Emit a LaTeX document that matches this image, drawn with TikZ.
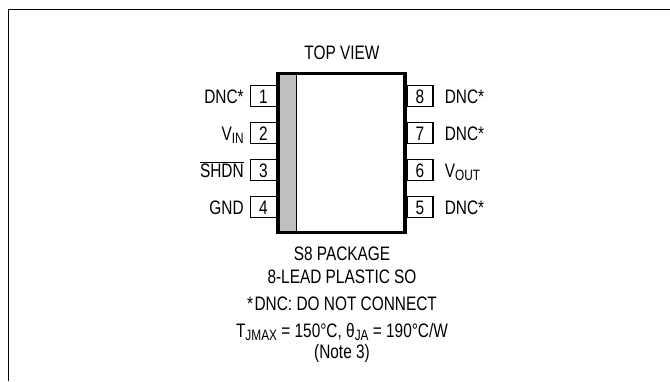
\documentclass[tikz,border=0pt]{standalone}
\usepackage{fontspec}
\setmainfont[FakeStretch=0.79]{Liberation Sans}
\usetikzlibrary{positioning}

\newcommand\pinfont{\fontsize{19.5bp}{22bp}\selectfont}
\newcommand\lowtext[1]{\raisebox{-0.2em}{\fontsize{15bp}{16bp}\selectfont #1}}

\tikzset{
    pinbox/.style={draw, line width=1.2bp, minimum width=26bp, minimum height=21bp, inner sep=0pt, font=\pinfont, text height=14bp, text depth=0pt},
    lbl/.style={inner sep=0pt, font=\pinfont, text height=14bp, text depth=0pt},
    txt/.style={inner sep=0pt, font=\pinfont, anchor=base}
}

\begin{document}
\begin{tikzpicture}[x=1bp, y=-1bp, line join=miter]
            \useasboundingbox (0,0) rectangle (670,381);
            % Frame
            \draw[line width=1.5bp] (670,9.5) -- (8.5,9.5) -- (8.5,381);

            % Package
            \node[txt] (top) at (342,59.5) {TOP VIEW};
            \node[minimum width=127bp, minimum height=159bp, inner sep=0pt] (body) at (341.5,153) {};
            \fill[gray!50] (body.north west) rectangle ([xshift=19bp]body.south west);
            \draw[line width=0.9bp] ([xshift=19bp]body.north west) -- ([xshift=19bp]body.south west);

            % Left pins
            \node[pinbox] (p1) at (263.5,96) {1};
            \node[pinbox] (p2) at (263.5,133) {2};
            \node[pinbox] (p3) at (263.5,170) {3};
            \node[pinbox] (p4) at (263.5,207) {4};
            \node[lbl, left=6bp of p1] (l1) {DNC*};
            \node[lbl, left=6bp of p2] (l2) {V\lowtext{IN}};
            \node[lbl, left=6bp of p3] (l3) {$\overline{\hbox{SHDN}}$};
            \node[lbl, left=6bp of p4] (l4) {GND};

            % Right pins
            \node[pinbox] (p8) at (420,96) {8};
            \node[pinbox] (p7) at (420,133) {7};
            \node[pinbox] (p6) at (420,170) {6};
            \node[pinbox] (p5) at (420,207) {5};
            \node[lbl, right=11bp of p8] (l8) {DNC*};
            \node[lbl, right=11bp of p7] (l7) {DNC*};
            \node[lbl, right=11bp of p6] (l6) {V\lowtext{OUT}};
            \node[lbl, right=11bp of p5] (l5) {DNC*};

            \draw[line width=3.5bp] (body.north west) rectangle (body.south east);

            % Notes
            \node[txt] (pkg) at (342,260) {S8 PACKAGE};
            \node[txt] (lead) at (342,283) {8-LEAD PLASTIC SO};
            \node[txt] (dnc) at (342,310) {*\kern1.5bp DNC: DO NOT CONNECT};
            \node[txt] (temp) at (342,337) {T\lowtext{JMAX} = 150°C, θ\lowtext{JA} = 190°C/W};
            \node[txt] (note) at (342,358) {(Note 3)};
        \end{tikzpicture}
\end{document}
